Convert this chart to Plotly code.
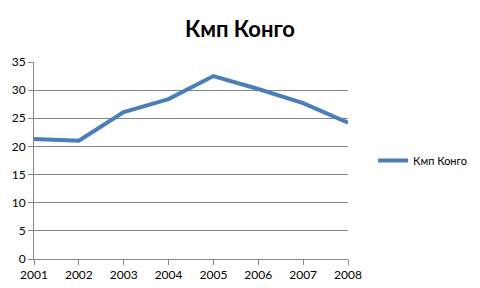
import plotly.graph_objects as go

years = [2001, 2002, 2003, 2004, 2005, 2006, 2007, 2008]
values = [21.3, 21.0, 26.1, 28.4, 32.5, 30.2, 27.7, 24.2]
series_name = "Кмп Конго"
title_text = "Кмп Конго"
y_ticks = [0, 5, 10, 15, 20, 25, 30, 35]

fig = go.Figure()
fig.add_trace(go.Scatter(x=years, y=values, mode="lines", name=series_name,
                         line=dict(color="#4a7ebb", width=4)))

fig.update_layout(
    width=480, height=288,
    margin=dict(l=34, r=132, t=62, b=29, autoexpand=False),
    paper_bgcolor="white", plot_bgcolor="white",
    font=dict(family="Lato, sans-serif", size=12, color="#000000"),
    title=dict(text="<b>" + title_text + "</b>", x=0.5, xanchor="center", y=0.9, yanchor="middle",
               font=dict(family="Lato", size=22, color="#000000")),
    showlegend=True,
    legend=dict(x=1.08, y=0.5, xanchor="left", yanchor="middle",
                font=dict(family="Lato", size=11), bgcolor="rgba(0,0,0,0)"),
    xaxis=dict(range=[2001, 2008], tickmode="array", tickvals=years,
               ticktext=[str(y) for y in years], automargin=False,
               showgrid=False, showline=True, linecolor="#868686", linewidth=1,
               ticks="outside", ticklen=5, tickcolor="#868686", zeroline=False),
    yaxis=dict(range=[0, 35], tickmode="array", tickvals=y_ticks, automargin=False,
               showgrid=True, gridcolor="#868686", gridwidth=1,
               showline=True, linecolor="#868686", linewidth=1,
               ticks="outside", ticklen=5, tickcolor="#868686", zeroline=False),
)

fig.write_html("out.html")
